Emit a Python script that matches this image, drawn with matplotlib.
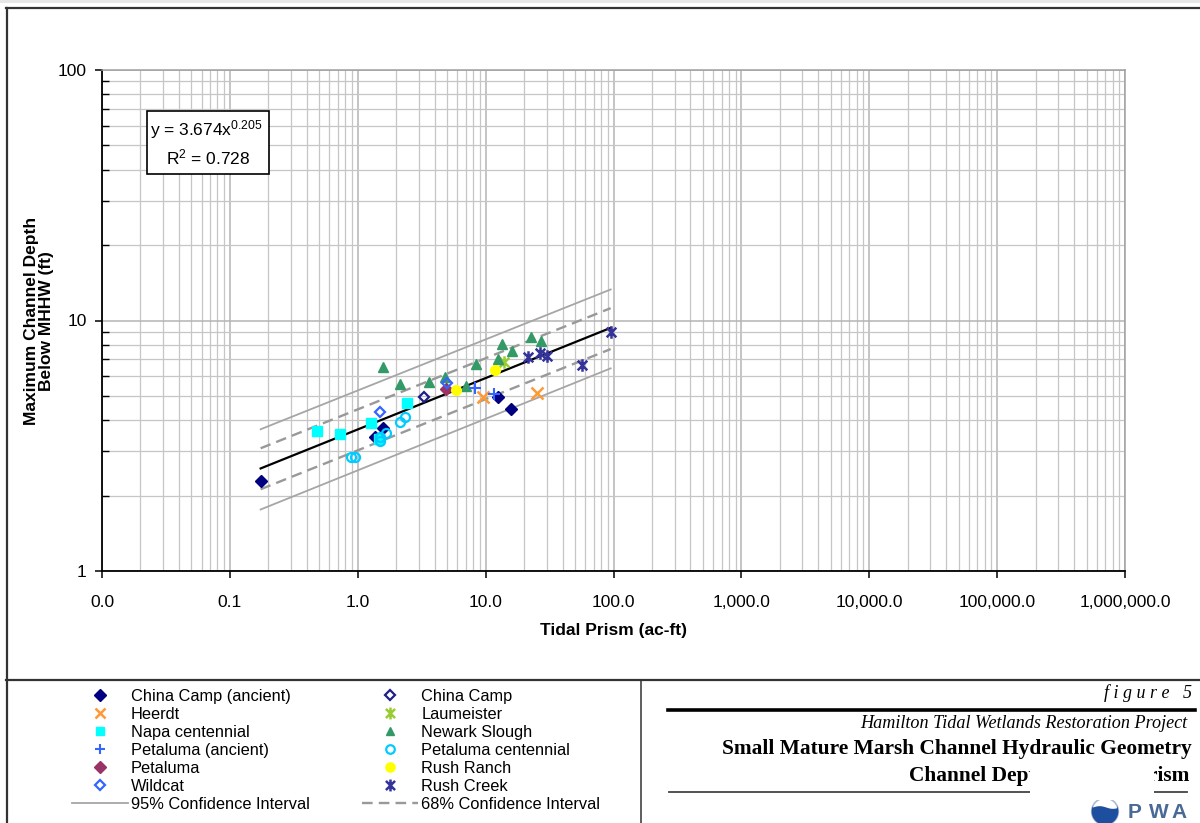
import numpy as np
import matplotlib
matplotlib.use('Agg')
import matplotlib.pyplot as plt
from matplotlib.ticker import FuncFormatter, LogLocator, NullFormatter
from matplotlib.patches import Rectangle, Circle, Polygon
from matplotlib.lines import Line2D
from matplotlib.path import Path

plt.rcParams['font.family'] = ['Liberation Sans', 'DejaVu Sans']
plt.rcParams['mathtext.fontset'] = 'custom'
plt.rcParams['mathtext.rm'] = 'Liberation Sans'
plt.rcParams['mathtext.it'] = 'Liberation Sans:italic'

# data (tidal prism ac-ft, max depth ft)
china_camp_ancient_x = [0.174, 1.36, 1.58, 12.5, 15.7]
china_camp_ancient_y = [2.28, 3.42, 3.71, 4.94, 4.45]
china_camp_x = [3.28]
china_camp_y = [4.96]
heerdt_x = [9.55, 25.2]
heerdt_y = [4.96, 5.15]
laumeister_x = [14.0]
laumeister_y = [6.85]
napa_x = [0.484, 0.723, 1.28, 1.47, 2.43]
napa_y = [3.62, 3.52, 3.91, 3.38, 4.67]
newark_x = [1.57, 2.13, 3.61, 4.79, 7.08, 8.37, 12.4, 13.5, 16.0, 22.8, 27.1]
newark_y = [6.50, 5.57, 5.69, 5.97, 5.48, 6.68, 7.02, 8.06, 7.56, 8.60, 8.29]
petaluma_ancient_x = [8.3, 11.7]
petaluma_ancient_y = [5.40, 5.10]
petaluma_cent_x = [0.88, 0.947, 1.49, 1.50, 1.65, 2.13, 2.35]
petaluma_cent_y = [2.85, 2.86, 3.31, 3.44, 3.54, 3.94, 4.13]
petaluma_x = [4.9]
petaluma_y = [5.32]
rush_ranch_x = [5.82, 11.9]
rush_ranch_y = [5.28, 6.32]
wildcat_x = [1.50, 4.97]
wildcat_y = [4.31, 5.63]
rush_creek_x = [21.5, 26.8, 30.0, 57.0, 94.8]
rush_creek_y = [7.17, 7.44, 7.19, 6.66, 8.97]

# power-law fit y = a x^b and interval lines
fit_a = 3.674
fit_b = 0.205
line_x = [0.174, 95.0]
ci95_upper = [3.68, 13.3]
ci95_lower = [1.76, 6.44]
ci68_upper = [3.09, 11.2]
ci68_lower = [2.12, 7.69]

x_ticks = [0.01, 0.1, 1, 10, 100, 1e3, 1e4, 1e5, 1e6]

W, H = 1200, 823


def fx(px):
    return px / W


def fy(py):
    return 1 - py / H


fig = plt.figure(figsize=(12, 8.23), dpi=100)
ax = fig.add_axes([fx(102), fy(571), fx(1125) - fx(102), fy(70) - fy(571)])

star = Path([(-1, -1), (1, 1), (-1, 1), (1, -1), (0, -1.3), (0, 1.3)],
            [Path.MOVETO, Path.LINETO] * 3)

ms = 7
series = {
    'China Camp (ancient)': (china_camp_ancient_x, china_camp_ancient_y,
                             dict(marker='D', color='#000080', ms=ms - 0.5)),
    'China Camp': (china_camp_x, china_camp_y,
                   dict(marker='D', color='#1f1f8a', mfc='none', mew=1.6, ms=ms - 1.5)),
    'Heerdt': (heerdt_x, heerdt_y,
               dict(marker='x', color='#ff9933', mew=1.8, ms=ms + 1)),
    'Laumeister': (laumeister_x, laumeister_y,
                   dict(marker=star, color='#99cc33', mew=1.8, ms=ms + 2)),
    'Napa centennial': (napa_x, napa_y,
                        dict(marker='s', color='#00ffff', ms=ms - 0.5)),
    'Newark Slough': (newark_x, newark_y,
                      dict(marker='^', color='#339966', ms=ms - 0.5)),
    'Petaluma (ancient)': (petaluma_ancient_x, petaluma_ancient_y,
                           dict(marker='+', color='#3366ff', mew=1.5, ms=ms + 1)),
    'Petaluma centennial': (petaluma_cent_x, petaluma_cent_y,
                            dict(marker='o', color='#00ccff', mfc='none', mew=1.6, ms=ms - 0.5)),
    'Petaluma': (petaluma_x, petaluma_y,
                 dict(marker='D', color='#993366', ms=ms - 0.5)),
    'Rush Ranch': (rush_ranch_x, rush_ranch_y,
                   dict(marker='o', color='#ffff00', ms=ms)),
    'Wildcat': (wildcat_x, wildcat_y,
                dict(marker='D', color='#3366ff', mfc='none', mew=1.6, ms=ms - 1.5)),
    'Rush Creek': (rush_creek_x, rush_creek_y,
                   dict(marker=star, color='#333399', mew=1.8, ms=ms + 2)),
}

handles = {}
for name, (xs, ys, kw) in series.items():
    h, = ax.plot(xs, ys, linestyle='none', zorder=4, clip_on=False, **kw)
    handles[name] = h

fit_y = [fit_a * v ** fit_b for v in line_x]
ax.plot(line_x, fit_y, color='black', lw=1.6, zorder=3)
h95, = ax.plot(line_x, ci95_upper, color='#a6a6a6', lw=1.3, zorder=3)
ax.plot(line_x, ci95_lower, color='#a6a6a6', lw=1.3, zorder=3)
h68, = ax.plot(line_x, ci68_upper, color='#999999', lw=1.7, dashes=(4.5, 2.6), zorder=3)
ax.plot(line_x, ci68_lower, color='#999999', lw=1.7, dashes=(4.5, 2.6), zorder=3)
handles['95% Confidence Interval'] = h95
handles['68% Confidence Interval'] = h68

ax.set_xscale('log')
ax.set_yscale('log')
ax.set_xlim(1e-2, 1e6)
ax.set_ylim(1, 100)
ax.set_xticks(x_ticks)
ax.xaxis.set_minor_locator(LogLocator(base=10, subs=range(2, 10), numticks=100))
ax.xaxis.set_major_formatter(FuncFormatter(lambda v, p: f'{v:,.1f}'))
ax.xaxis.set_minor_formatter(NullFormatter())
ax.yaxis.set_major_formatter(FuncFormatter(lambda v, p: f'{v:g}'))
ax.yaxis.set_minor_formatter(NullFormatter())
ax.grid(which='major', color='#b4b4b4', lw=1.1)
ax.grid(which='minor', color='#c6c6c6', lw=0.9)
ax.set_axisbelow(True)
ax.tick_params(axis='x', which='major', direction='out', length=5, width=1.1,
               pad=12, labelsize=12.5)
ax.tick_params(axis='x', which='minor', length=0)
ax.tick_params(axis='y', which='major', direction='out', length=5, width=1.1,
               pad=6, labelsize=12.5)
ax.tick_params(axis='y', which='minor', direction='in', length=5, width=1)
for side in ['left', 'bottom']:
    ax.spines[side].set_color('black')
    ax.spines[side].set_linewidth(1.3)
for side in ['top', 'right']:
    ax.spines[side].set_color('#a0a0a0')
    ax.spines[side].set_linewidth(1.1)

fig.text(fx(613), fy(630), 'Tidal Prism (ac-ft)', fontsize=12.5,
         fontweight='bold', ha='center', va='center')
fig.text(fx(39), fy(321), 'Maximum Channel Depth\nBelow MHHW (ft)', fontsize=12.5,
         fontweight='bold', rotation=90, ha='center', va='center',
         multialignment='center', linespacing=1.08)

# equation box
fig.add_artist(Rectangle((fx(147), fy(174)), fx(269) - fx(147), fy(111) - fy(174),
                         transform=fig.transFigure, facecolor='white',
                         edgecolor='black', lw=1.2, zorder=5))
fig.text(fx(206), fy(130), r'y = 3.674x$^{0.205}$', fontsize=12.5,
         ha='center', va='center', zorder=6)
fig.text(fx(208), fy(157), r'R$^2$ = 0.728', fontsize=12.5,
         ha='center', va='center', zorder=6)

# page frame
fig.add_artist(Rectangle((0, fy(3)), 1, 3 / H, transform=fig.transFigure,
                         color='#e6e6e6', lw=0))
frame = dict(transform=fig.transFigure, color='#333333', lw=1.6)
fig.add_artist(Line2D([fx(6), 1], [fy(7.5), fy(7.5)], **frame))
fig.add_artist(Line2D([fx(6.5), fx(6.5)], [fy(7.5), 0], **frame))
fig.add_artist(Line2D([fx(6), 1], [fy(680), fy(680)], **frame))
fig.add_artist(Line2D([fx(641), fx(641)], [fy(680), 0],
                      transform=fig.transFigure, color='#333333', lw=1.1))

# legend
col1 = ['China Camp (ancient)', 'Heerdt', 'Napa centennial', 'Petaluma (ancient)',
        'Petaluma', 'Wildcat', '95% Confidence Interval']
col2 = ['China Camp', 'Laumeister', 'Newark Slough', 'Petaluma centennial',
        'Rush Ranch', 'Rush Creek', '68% Confidence Interval']
order = col1 + col2
fig.legend([handles[k] for k in order], order, ncol=2, loc='upper left',
           bbox_to_anchor=(fx(72), fy(688.5)), bbox_transform=fig.transFigure,
           frameon=False, fontsize=11.8, handlelength=3.4, handletextpad=0.2,
           columnspacing=3.2, labelspacing=0.19, borderpad=0, borderaxespad=0,
           markerscale=0.95)

# title block
serif = ['Liberation Serif', 'DejaVu Serif']
fig.text(fx(1192), fy(693), 'f i g u r e   5', family=serif, style='italic',
         fontsize=13, ha='right', va='center')
fig.add_artist(Line2D([fx(668), fx(1195)], [fy(710), fy(710)],
                      transform=fig.transFigure, color='black', lw=2.6))
fig.text(fx(1187), fy(723), 'Hamilton Tidal Wetlands Restoration Project',
         family=serif, style='italic', fontsize=13.1, ha='right', va='center')
fig.text(fx(1192), fy(749), 'Small Mature Marsh Channel Hydraulic Geometry',
         family=serif, fontweight='bold', fontsize=15.4, ha='right', va='center')
fig.text(fx(909), fy(776), 'Channel Depth vs. Tidal ', family=serif,
         fontweight='bold', fontsize=15.4, ha='left', va='center')
fig.text(fx(1190), fy(776), 'Prism', family=serif, fontweight='bold',
         fontsize=15.4, ha='right', va='center')
fig.add_artist(Line2D([fx(669), fx(1187)], [fy(792), fy(792)],
                      transform=fig.transFigure, color='#444444', lw=1.3))
fig.add_artist(Rectangle((fx(1030), fy(800)), fx(1154) - fx(1030), fy(761) - fy(800),
                         transform=fig.transFigure, facecolor='white', lw=0,
                         zorder=10))

# PWA logo: circle with blue water below a wave, cut by the page edge
lg = fig.add_axes([fx(1089), fy(827.5), 32 / W, 32 / H])
lg.set_xlim(-1.2, 1.2)
lg.set_ylim(-1.2, 1.2)
lg.set_aspect('equal')
lg.axis('off')
lg.add_patch(Circle((0, 0), 1, facecolor='none', edgecolor='#a9bbd8', lw=1.2))
t = np.radians(np.linspace(25, -205, 60))
arc = np.column_stack([np.cos(t), np.sin(t)])
wx = np.linspace(np.cos(np.radians(155)), np.cos(np.radians(25)), 30)
wy = 0.30 + 0.10 * np.cos(np.pi * (wx + 0.4))
water = np.vstack([arc, np.column_stack([wx, wy])])
lg.add_patch(Polygon(water, closed=True, facecolor='#1e4f9e', lw=0))
for ch, px in zip('PWA', [1135, 1158.5, 1179.5]):
    fig.text(fx(px), fy(812), ch, color='#4a6996', fontsize=15,
             fontweight='bold', ha='center', va='center')

fig.savefig('out.png', dpi=100)
